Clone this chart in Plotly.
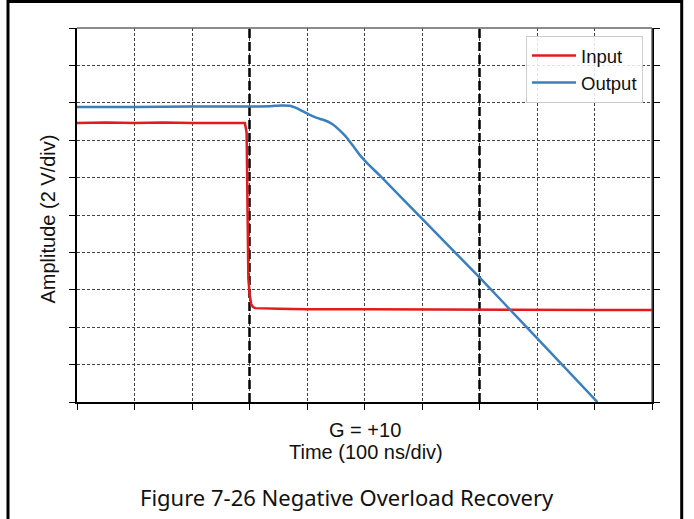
import plotly.graph_objects as go

# ---- data (x in time divisions, y in amplitude divisions) ----
input_x = [0, 0.5, 1, 1.5, 2, 2.5, 2.92, 2.95, 2.97, 2.98, 3.005, 3.03, 3.06, 3.10, 3.5, 4, 5, 6, 7, 8, 9, 10]
input_y = [7.46, 7.47, 7.46, 7.47, 7.46, 7.47, 7.46, 7.2, 5.0, 3.3, 2.85, 2.62, 2.54, 2.51, 2.49, 2.48, 2.48, 2.47, 2.47, 2.47, 2.46, 2.46]

output_x = [0, 1, 2, 3, 3.36, 3.55, 3.70, 3.80, 3.93, 4.05, 4.15, 4.25, 4.36, 4.45, 4.55, 4.68, 4.80, 4.92, 5.05, 5.27, 6.0, 7.0, 8.0, 9.05]
output_y = [7.89, 7.89, 7.90, 7.90, 7.91, 7.93, 7.92, 7.87, 7.77, 7.68, 7.61, 7.56, 7.50, 7.42, 7.29, 7.09, 6.85, 6.60, 6.38, 6.05, 4.90, 3.33, 1.71, 0.0]

marker_divs = [3, 7]
div_ticks = list(range(0, 11))

W_FIG, H_FIG = 694, 519
L, T, R, B = 77, 28, 42, 117
PW, PH = W_FIG - L - R, H_FIG - T - B


def px2x(px):
    return (px - L) / PW


def py2y(py):
    return (T + PH - py) / PH


fig = go.Figure()

for m in marker_divs:
    fig.add_trace(go.Scatter(
        x=[m, m], y=[0, 10], mode="lines", showlegend=False, hoverinfo="skip",
        line=dict(color="black", width=2.5, dash="9px,4px")))

fig.add_trace(go.Scatter(x=input_x, y=input_y, mode="lines", name="Input",
                         line=dict(color="#e41a1c", width=2.5)))
fig.add_trace(go.Scatter(x=output_x, y=output_y, mode="lines", name="Output",
                         line=dict(color="#3a7fc0", width=2.5, shape="spline", smoothing=0.3)))

axis_common = dict(
    range=[0, 10], tickvals=div_ticks, showticklabels=False,
    ticks="outside", ticklen=6, tickwidth=1.3, tickcolor="black",
    showgrid=True, gridcolor="#444", gridwidth=1, griddash="3px,2px",
    zeroline=False, showline=True, linecolor="black", linewidth=1.5,
)
fig.update_xaxes(**axis_common)
fig.update_yaxes(**axis_common, mirror="ticks")

shapes = [
    # top and right spines
    dict(type="line", xref="paper", yref="paper", x0=0, x1=1, y0=1, y1=1,
         line=dict(color="#666", width=1.3)),
    dict(type="line", xref="paper", yref="paper", x0=1, x1=1, y0=0, y1=1,
         line=dict(color="#555", width=1.3)),
    # outer frame (open at bottom)
    dict(type="path", xref="paper", yref="paper",
         path=f"M {px2x(8)},{py2y(540)} L {px2x(8)},{py2y(1.5)} L {px2x(681.7)},{py2y(1.5)} L {px2x(681.7)},{py2y(540)}",
         line=dict(color="black", width=3)),
]

axis_font = dict(family="Liberation Sans, Arial, sans-serif", size=20, color="#111")
annotations = [
    dict(text="Amplitude (2 V/div)", xref="paper", yref="paper", x=px2x(47.5), y=py2y(219),
         xanchor="center", yanchor="middle", textangle=-90, showarrow=False, font=axis_font),
    dict(text="G = +10", xref="paper", yref="paper", x=px2x(365), y=py2y(430),
         xanchor="center", yanchor="middle", showarrow=False, font=axis_font),
    dict(text="Time (100 ns/div)", xref="paper", yref="paper", x=px2x(366), y=py2y(452),
         xanchor="center", yanchor="middle", showarrow=False, font=axis_font),
    dict(text="Figure 7-26 Negative Overload Recovery", xref="paper", yref="paper",
         x=px2x(346.5), y=py2y(497), xanchor="center", yanchor="middle", showarrow=False,
         font=dict(family="Noto Sans, Open Sans, sans-serif", size=22, color="#111")),
]

fig.update_layout(
    width=W_FIG, height=H_FIG,
    margin=dict(l=L, r=R, t=T, b=B, pad=0),
    paper_bgcolor="white", plot_bgcolor="white",
    shapes=shapes, annotations=annotations,
    legend=dict(x=px2x(643), y=py2y(36), xanchor="right", yanchor="top",
                bgcolor="rgba(255,255,255,0.85)", bordercolor="#ccc", borderwidth=1,
                font=dict(family="Liberation Sans, Arial, sans-serif", size=18.5, color="#111"),
                itemwidth=44, tracegroupgap=0),
    showlegend=True,
)

fig.write_html(
    "out.html",
    config={"displayModeBar": False},
    post_script="document.body.style.margin='0';document.body.style.overflow='hidden';",
)
